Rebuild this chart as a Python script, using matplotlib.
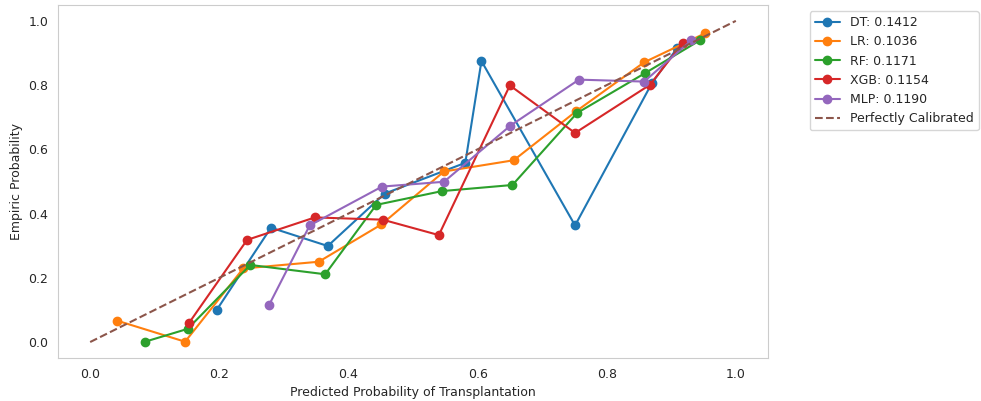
import matplotlib
matplotlib.use('Agg')
import matplotlib.pyplot as plt
import seaborn as sns

# calibration curves (mean predicted prob, fraction of positives)
dt_x = [0.196, 0.280, 0.368, 0.456, 0.581, 0.606, 0.751, 0.870, 0.909]
dt_y = [0.100, 0.356, 0.299, 0.462, 0.558, 0.875, 0.363, 0.806, 0.915]
lr_x = [0.041, 0.147, 0.237, 0.354, 0.451, 0.548, 0.656, 0.753, 0.858, 0.952]
lr_y = [0.067, 0.001, 0.229, 0.250, 0.366, 0.531, 0.566, 0.719, 0.871, 0.961]
rf_x = [0.085, 0.151, 0.248, 0.364, 0.443, 0.545, 0.654, 0.754, 0.860, 0.944]
rf_y = [0.001, 0.041, 0.240, 0.211, 0.427, 0.470, 0.489, 0.713, 0.838, 0.939]
xgb_x = [0.153, 0.243, 0.348, 0.453, 0.540, 0.650, 0.751, 0.867, 0.918]
xgb_y = [0.059, 0.318, 0.388, 0.381, 0.333, 0.799, 0.651, 0.801, 0.932]
mlp_x = [0.277, 0.340, 0.452, 0.548, 0.651, 0.757, 0.858, 0.931]
mlp_y = [0.115, 0.363, 0.484, 0.499, 0.674, 0.817, 0.811, 0.939]

labels = ['DT: 0.1412', 'LR: 0.1036', 'RF: 0.1171', 'XGB: 0.1154', 'MLP: 0.1190']

sns.set_style('whitegrid')
plt.rcParams['font.size'] = 9

fig, ax = plt.subplots(figsize=(9.81, 4.01), dpi=100)
fig.subplots_adjust(left=0.059, right=0.783, bottom=0.107, top=0.988)

series = [(dt_x, dt_y), (lr_x, lr_y), (rf_x, rf_y), (xgb_x, xgb_y), (mlp_x, mlp_y)]
for (x, y), lab in zip(series, labels):
    ax.plot(x, y, marker='o', label=lab)

ax.plot([0, 1], [0, 1], '--', color='tab:brown', label='Perfectly Calibrated')

ax.grid(False)
ax.set_xlabel('Predicted Probability of Transplantation')
ax.set_ylabel('Empiric Probability')
ax.legend(bbox_to_anchor=(1.05, 1), loc='upper left')

plt.savefig('out.png', dpi=100)
